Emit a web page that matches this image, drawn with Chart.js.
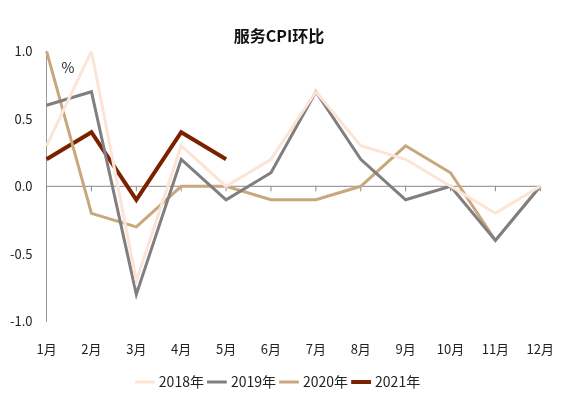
<!DOCTYPE html>
<html><head><meta charset="utf-8">
<script src="https://cdn.jsdelivr.net/npm/chart.js@4"></script>
<style>body{margin:0;background:#fff}#w{width:566px;height:403px}</style>
</head><body><div id="w"><canvas id="c"></canvas></div>
<script>
const categories=['1月','2月','3月','4月','5月','6月','7月','8月','9月','10月','11月','12月'];
const s2018=[0.3,1.0,-0.7,0.3,0.0,0.2,0.7,0.3,0.2,0.0,-0.2,0.0];
const s2019=[0.6,0.7,-0.8,0.2,-0.1,0.1,0.7,0.2,-0.1,0.0,-0.4,0.0];
const s2020=[1.0,-0.2,-0.3,0.0,0.0,-0.1,-0.1,0.0,0.3,0.1,-0.4,0.0];
const s2021=[0.2,0.4,-0.1,0.4,0.2];
const yTicks=[-1.0,-0.5,0.0,0.5,1.0];
const F='"Noto Sans CJK SC","Noto Sans",sans-serif';
const zeroLine={id:'z',beforeDatasetsDraw(ch){
 const {ctx,scales:{x,y}}=ch;const y0=y.getPixelForValue(0);
 ctx.save();ctx.strokeStyle='#888';ctx.lineWidth=1;
 ctx.beginPath();ctx.moveTo(x.left,y0);ctx.lineTo(x.right,y0);
 categories.forEach((c,i)=>{const px=x.getPixelForValue(i);ctx.moveTo(px,y0);ctx.lineTo(px,y0+5);});
 ctx.stroke();
 ctx.fillStyle='#222';ctx.font='14px '+F;ctx.fillText('%',x.left+15,y.getPixelForValue(0.88));
 ctx.restore();}};
const mk=(l,d,c,w)=>({label:l,data:d,borderColor:c,backgroundColor:c,borderWidth:w,pointRadius:0,tension:0,fill:false});
new Chart(document.getElementById('c'),{type:'line',
 data:{labels:categories,datasets:[mk('2018年',s2018,'#FCE4D6',3),mk('2019年',s2019,'#7F7F7F',3),mk('2020年',s2020,'#C9A77C',3),mk('2021年',s2021,'#7B2100',4)]},
 options:{responsive:true,maintainAspectRatio:false,animation:false,
  layout:{padding:{left:4,right:12,top:0,bottom:4}},
  plugins:{title:{display:true,text:'服务CPI环比',font:{family:F,size:16,weight:'bold'},color:'#111',padding:{top:26,bottom:6}},
   legend:{position:'bottom',labels:{usePointStyle:true,pointStyle:'line',boxWidth:70,color:'#222',font:{family:F,size:14},padding:6}},
   tooltip:{enabled:false}},
  scales:{x:{offset:false,grid:{display:false},border:{display:false},ticks:{color:'#222',font:{family:F,size:13},maxRotation:0,padding:12}},
   y:{min:-1,max:1,afterBuildTicks:a=>{a.ticks=yTicks.map(v=>({value:v}));},grid:{display:false,drawTicks:true},border:{display:true,color:'#999'},
    ticks:{color:'#222',font:{family:F,size:13},callback:v=>v.toFixed(1),padding:6}}}},
 plugins:[zeroLine]});
</script></body></html>
